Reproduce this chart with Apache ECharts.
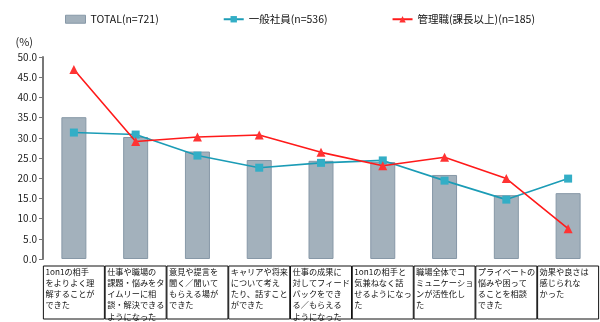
<!DOCTYPE html>
<html>
<head>
<meta charset="utf-8">
<script src="https://cdn.jsdelivr.net/npm/echarts@6/dist/echarts.min.js"></script>
<style>
  html, body { margin: 0; padding: 0; background: #fff; }
  #chart { width: 600px; height: 322px; }
</style>
</head>
<body>
<div id="chart"></div>
<script>
// Survey items (x-axis), with line breaks as laid out in the label table
const categories = [
  '1on1の相手\nをよりよく理\n解することが\nできた',
  '仕事や職場の\n課題・悩みをタ\nイムリーに相\n談・解決できる\nようになった',
  '意見や提言を\n聞く／聞いて\nもらえる場が\nできた',
  'キャリアや将来\nについて考え\nたり、話すこと\nができた',
  '仕事の成果に\n対してフィード\nバックをでき\nる／もらえる\nようになった',
  '1on1の相手と\n気兼ねなく話\nせるようになっ\nた',
  '職場全体でコ\nミュニケーショ\nンが活性化し\nた',
  'プライベートの\n悩みや困って\nることを相談\nできた',
  '効果や良さは\n感じられな\nかった'
];

const seriesNames = ['TOTAL(n=721)', '一般社員(n=536)', '管理職(課長以上)(n=185)'];

// Percentages per group
const totalValues   = [35.1, 30.2, 26.6, 24.5, 24.3, 24.0, 20.8, 15.8, 16.3];
const staffValues   = [31.3, 30.8, 25.6, 22.6, 23.8, 24.4, 19.4, 14.7, 19.9];
const managerValues = [46.9, 29.1, 30.2, 30.7, 26.4, 23.1, 25.2, 19.9, 7.5];

const font = '"Noto Sans CJK JP", "Noto Sans", sans-serif';

const chart = echarts.init(document.getElementById('chart'), null, { renderer: 'canvas' });

chart.setOption({
  animation: false,
  textStyle: { fontFamily: font },
  legend: {
    top: 9,
    left: 60,
    itemGap: 64,
    itemWidth: 20,
    itemHeight: 8,
    textStyle: { fontFamily: font, fontSize: 10.5, color: '#111' },
    data: [
      { name: seriesNames[0], icon: 'rect', itemStyle: { color: '#a3b1bc', borderColor: '#8798a7', borderWidth: 1 } },
      { name: seriesNames[1] },
      { name: seriesNames[2] }
    ]
  },
  grid: { left: 43, right: 1, top: 57, bottom: 63, outerBoundsMode: 'none', containLabel: false },
  xAxis: {
    type: 'category',
    data: categories,
    axisLine: { show: false },
    axisTick: { show: false },
    axisLabel: {
      interval: 0,
      margin: 7,
      hideOverlap: false,
      fontFamily: font,
      fontSize: 8.2,
      color: '#111',
      align: 'center',
      verticalAlign: 'top',
      borderColor: '#111',
      borderWidth: 1,
      padding: [0, 0, 0, 2],
      height: 53,
      formatter: v => v.split('\n').map(s => '{t|' + s + '}').join('\n'),
      rich: {
        t: { width: 59, align: 'left', fontSize: 8.2, lineHeight: 11.2, fontFamily: font, color: '#111' }
      }
    }
  },
  yAxis: {
    type: 'value',
    min: 0,
    max: 50,
    interval: 5,
    name: '(%)',
    nameLocation: 'end',
    nameGap: 10,
    nameTextStyle: { fontFamily: font, fontSize: 11, color: '#222', align: 'right', padding: [0, 10, 0, 0] },
    axisLine: { show: true, lineStyle: { color: '#777', width: 2 } },
    axisTick: { show: true, inside: false, length: 4, lineStyle: { color: '#777', width: 1 } },
    axisLabel: {
      fontFamily: font, fontSize: 10, color: '#222', margin: 6,
      formatter: v => v.toFixed(1)
    },
    splitLine: { show: false }
  },
  series: [
    {
      name: seriesNames[0],
      type: 'bar',
      data: totalValues,
      barWidth: 25,
      itemStyle: { color: '#a3b1bc', borderColor: '#8798a7', borderWidth: 1 },
      z: 1
    },
    {
      name: seriesNames[1],
      type: 'line',
      data: staffValues,
      symbol: 'rect',
      symbolSize: 8,
      lineStyle: { color: '#1b9cb6', width: 1.6 },
      itemStyle: { color: '#33aec6' },
      z: 3
    },
    {
      name: seriesNames[2],
      type: 'line',
      data: managerValues,
      symbol: 'triangle',
      symbolSize: 9,
      lineStyle: { color: '#ff1a1a', width: 1.6 },
      itemStyle: { color: '#ff3333' },
      z: 4
    }
  ]
});
</script>
</body>
</html>
